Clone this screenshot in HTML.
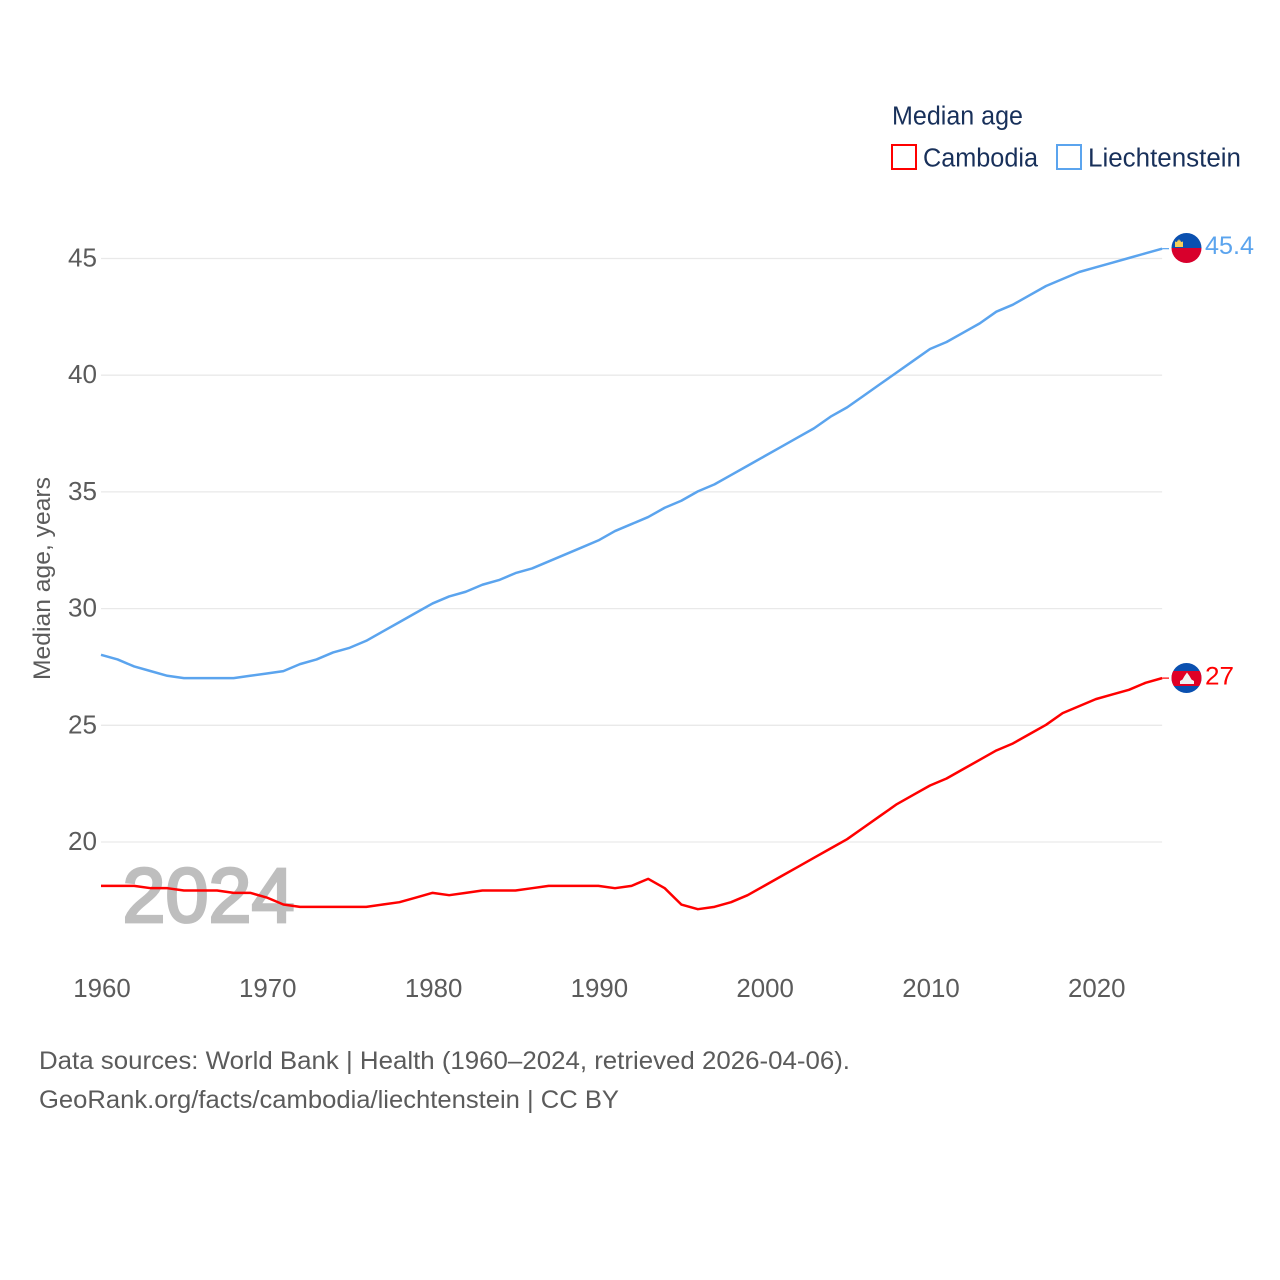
<!DOCTYPE html>
<html lang="en">
<head>
<meta charset="utf-8">
<title>Median age: Cambodia and Liechtenstein</title>
<style>
html,body{margin:0;padding:0;background:#fff;width:1280px;height:1280px;overflow:hidden}
svg{display:block;font-family:"Liberation Sans",sans-serif}
</style>
</head>
<body>
<svg id="chart" xmlns="http://www.w3.org/2000/svg" width="1280" height="1280" viewBox="0 0 1280 1280">
  <defs>
    <clipPath id="flag-clip-li"><circle cx="1186.5" cy="248" r="15"/></clipPath>
    <clipPath id="flag-clip-kh"><circle cx="1186.5" cy="678" r="15"/></clipPath>
  </defs>
  <rect x="0" y="0" width="1280" height="1280" fill="#fff"/>
  <g id="grid"></g>
  <g id="y-ticks"></g>
  <g id="x-ticks"></g>
  <text transform="translate(50,680) rotate(-90)" font-size="24.5" fill="#5b5b5b" textLength="203" lengthAdjust="spacingAndGlyphs">Median age, years</text>
  <text x="122.5" y="922" font-size="77" font-weight="normal" fill="#bebebe" stroke="#bebebe" stroke-width="2.8" textLength="172" lengthAdjust="spacingAndGlyphs">2024</text>
  <g id="series" transform="translate(0,-0.5)"></g>

  <g>
    <text x="892" y="124.5" font-size="25.5" fill="#18305a" textLength="131" lengthAdjust="spacingAndGlyphs">Median age</text>
    <g>
      <rect x="892" y="145" width="24" height="24" fill="#fff" stroke="#ff0000" stroke-width="2"/>
      <text x="923" y="166.5" font-size="25.5" fill="#18305a" textLength="115" lengthAdjust="spacingAndGlyphs">Cambodia</text>
    </g>
    <g>
      <rect x="1057" y="145" width="24" height="24" fill="#fff" stroke="#5ba4ee" stroke-width="2"/>
      <text x="1088" y="166.5" font-size="25.5" fill="#18305a" textLength="153" lengthAdjust="spacingAndGlyphs">Liechtenstein</text>
    </g>
  </g>

  <g clip-path="url(#flag-clip-li)">
    <rect x="1171" y="233" width="31" height="15" fill="#0a50b0"/>
    <rect x="1171" y="248" width="31" height="15" fill="#d8002c"/>
    <path d="M1175 247v-5.5l2 .5.5-1.5h1v-1h1v1h1l.5 1.5 2-.5v5.5z" fill="#f5cf5a"/>
  </g>
  <g clip-path="url(#flag-clip-kh)">
    <rect x="1171" y="663" width="31" height="30" fill="#0a50b0"/>
    <rect x="1171" y="671" width="31" height="15" fill="#e00025"/>
    <path d="M1180 684v-3l2.5-1.5 2-3.5 2.5-3.5 2.5 3.5 2 3.5 2.5 1.5v3z" fill="#f2f2f2"/>
  </g>
  <text x="1205" y="254" font-size="25" fill="#5ba4ee" textLength="49" lengthAdjust="spacingAndGlyphs">45.4</text>
  <text x="1205" y="684.5" font-size="25" fill="#ff0000" textLength="29" lengthAdjust="spacingAndGlyphs">27</text>

  <text x="39" y="1069" font-size="25" fill="#5b5b5b" textLength="811" lengthAdjust="spacingAndGlyphs">Data sources: World Bank | Health (1960–2024, retrieved 2026-04-06).</text>
  <text x="39" y="1108" font-size="25" fill="#5b5b5b" textLength="580" lengthAdjust="spacingAndGlyphs">GeoRank.org/facts/cambodia/liechtenstein | CC BY</text>
</svg>
<script>
const firstYear = 1960;
const xTickLabels = [1960, 1970, 1980, 1990, 2000, 2010, 2020];
const yTickLabels = [20, 25, 30, 35, 40, 45];
const liechtensteinValues = [28.0,27.8,27.5,27.3,27.1,27.0,27.0,27.0,27.0,27.1,27.2,27.3,27.6,27.8,28.1,28.3,28.6,29.0,29.4,29.8,30.2,30.5,30.7,31.0,31.2,31.5,31.7,32.0,32.3,32.6,32.9,33.3,33.6,33.9,34.3,34.6,35.0,35.3,35.7,36.1,36.5,36.9,37.3,37.7,38.2,38.6,39.1,39.6,40.1,40.6,41.1,41.4,41.8,42.2,42.7,43.0,43.4,43.8,44.1,44.4,44.6,44.8,45.0,45.2,45.4];
const cambodiaValues = [18.1,18.1,18.1,18.0,18.0,17.9,17.9,17.9,17.8,17.8,17.6,17.3,17.2,17.2,17.2,17.2,17.2,17.3,17.4,17.6,17.8,17.7,17.8,17.9,17.9,17.9,18.0,18.1,18.1,18.1,18.1,18.0,18.1,18.4,18.0,17.3,17.1,17.2,17.4,17.7,18.1,18.5,18.9,19.3,19.7,20.1,20.6,21.1,21.6,22.0,22.4,22.7,23.1,23.5,23.9,24.2,24.6,25.0,25.5,25.8,26.1,26.3,26.5,26.8,27.0];

const NS = 'http://www.w3.org/2000/svg';
const xScale = function (year) { return 101 + (year - 1960) * 16.58; };
const yScale = function (v) { return 842 - (v - 20) * 23.34; };

const grid = document.getElementById('grid');
const yTicks = document.getElementById('y-ticks');
const xTicks = document.getElementById('x-ticks');
const seriesGroup = document.getElementById('series');

yTickLabels.forEach(function (v) {
  const line = document.createElementNS(NS, 'line');
  
  
  line.setAttribute('x1', 101);
  line.setAttribute('x2', xScale(2024));
  line.setAttribute('y1', yScale(v));
  line.setAttribute('y2', yScale(v));
  line.setAttribute('stroke', '#e9e9e9');
  line.setAttribute('stroke-width', '1.3');
  grid.appendChild(line);

  const label = document.createElementNS(NS, 'text');
  
  
  label.setAttribute('x', 97);
  label.setAttribute('y', yScale(v) + 8);
  label.setAttribute('text-anchor', 'end');
  label.setAttribute('font-size', '25.5');
  label.setAttribute('fill', '#5b5b5b');
  label.setAttribute('textLength', '29');
  label.setAttribute('lengthAdjust', 'spacingAndGlyphs');
  label.textContent = String(v);
  yTicks.appendChild(label);
});

xTickLabels.forEach(function (y) {
  const label = document.createElementNS(NS, 'text');
  
  
  label.setAttribute('x', xScale(y) + 1);
  label.setAttribute('y', 997);
  label.setAttribute('text-anchor', 'middle');
  label.setAttribute('font-size', '25.5');
  label.setAttribute('fill', '#5b5b5b');
  label.setAttribute('textLength', '57.5');
  label.setAttribute('lengthAdjust', 'spacingAndGlyphs');
  label.textContent = String(y);
  xTicks.appendChild(label);
});

function pointsFor(values) {
  return values.map(function (v, i) {
    return xScale(firstYear + i).toFixed(2) + ',' + yScale(v).toFixed(2);
  }).join(' ');
}

const liechtensteinLine = document.createElementNS(NS, 'polyline');


liechtensteinLine.setAttribute('points', pointsFor(liechtensteinValues));
liechtensteinLine.setAttribute('fill', 'none');
liechtensteinLine.setAttribute('stroke', '#5ba4ee');
liechtensteinLine.setAttribute('stroke-width', '2.5');
liechtensteinLine.setAttribute('stroke-linejoin', 'round');
seriesGroup.appendChild(liechtensteinLine);

const cambodiaLine = document.createElementNS(NS, 'polyline');


cambodiaLine.setAttribute('points', pointsFor(cambodiaValues));
cambodiaLine.setAttribute('fill', 'none');
cambodiaLine.setAttribute('stroke', '#ff0000');
cambodiaLine.setAttribute('stroke-width', '2.5');
cambodiaLine.setAttribute('stroke-linejoin', 'round');
seriesGroup.appendChild(cambodiaLine);

const liechtensteinConnector = document.createElementNS(NS, 'line');


liechtensteinConnector.setAttribute('x1', xScale(2024));
liechtensteinConnector.setAttribute('x2', 1169);
liechtensteinConnector.setAttribute('y1', yScale(liechtensteinValues[liechtensteinValues.length - 1]));
liechtensteinConnector.setAttribute('y2', yScale(liechtensteinValues[liechtensteinValues.length - 1]));
liechtensteinConnector.setAttribute('stroke', '#5ba4ee');
liechtensteinConnector.setAttribute('stroke-width', '1.2');
seriesGroup.appendChild(liechtensteinConnector);

const cambodiaConnector = document.createElementNS(NS, 'line');


cambodiaConnector.setAttribute('x1', xScale(2024));
cambodiaConnector.setAttribute('x2', 1169);
cambodiaConnector.setAttribute('y1', yScale(cambodiaValues[cambodiaValues.length - 1]));
cambodiaConnector.setAttribute('y2', yScale(cambodiaValues[cambodiaValues.length - 1]));
cambodiaConnector.setAttribute('stroke', '#ff0000');
cambodiaConnector.setAttribute('stroke-width', '1.2');
seriesGroup.appendChild(cambodiaConnector);
</script>
</body>
</html>
